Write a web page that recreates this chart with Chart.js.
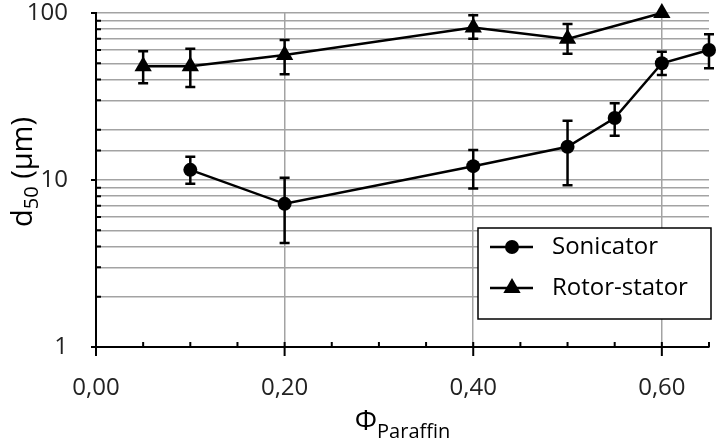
<!DOCTYPE html>
<html>
<head>
<meta charset="utf-8">
<script src="https://cdn.jsdelivr.net/npm/chart.js@4"></script>
<style>
  body { margin: 0; background: #fff; }
  #wrap { width: 721px; height: 441px; }
</style>
</head>
<body>
<div id="wrap"><canvas id="c" width="721" height="441"></canvas></div>
<script>
// Sonicator
const sonX = [0.10, 0.20, 0.40, 0.50, 0.55, 0.60, 0.65];
const sonY = [11.5, 7.2, 12.1, 15.8, 23.5, 50, 60];
const sonLo = [9.5, 4.2, 8.9, 9.3, 18.4, 42.5, 46.7];
const sonHi = [13.8, 10.3, 15.1, 22.6, 28.8, 58.6, 74.5];

// Rotor-stator
const rotX = [0.05, 0.10, 0.20, 0.40, 0.50, 0.60];
const rotY = [48, 48, 56, 82, 70, 100];
const rotLo = [38, 36, 43, 70, 57, null];
const rotHi = [59, 61, 69, 97, 86, null];

const xTicks = [0, 0.05, 0.10, 0.15, 0.20, 0.25, 0.30, 0.35, 0.40, 0.45, 0.50, 0.55, 0.60, 0.65];
const yLabels = [1, 10, 100];

const FONT = '"Open Sans", "DejaVu Sans", sans-serif';
const GRID = '#a3a3a3';

function isMajorX(v) {
    return Math.abs(v / 0.2 - Math.round(v / 0.2)) < 1e-6;
}

function pts(xs, ys) {
    return xs.map((x, i) => ({ x: x, y: ys[i] }));
}

// no extra space around the axes for tick labels, layout padding does it
function noPad(s) {
    s.paddingTop = 0; s.paddingBottom = 0;
    s.paddingLeft = 0; s.paddingRight = 0;
}

// error bars, drawn under the markers
const errorBars = {
    id: 'errorBars',
    beforeDatasetsDraw(chart) {
        const ctx = chart.ctx;
        const xs = chart.scales.x, ys = chart.scales.y;
        const sets = [[sonX, sonLo, sonHi], [rotX, rotLo, rotHi]];
        ctx.save();
        ctx.strokeStyle = '#000';
        ctx.lineWidth = 2.5;
        sets.forEach(([xv, lo, hi]) => {
            xv.forEach((x, i) => {
                if (lo[i] == null) return;
                const px = xs.getPixelForValue(x);
                const y1 = ys.getPixelForValue(lo[i]);
                const y2 = ys.getPixelForValue(hi[i]);
                ctx.beginPath();
                ctx.moveTo(px, y1); ctx.lineTo(px, y2);
                ctx.moveTo(px - 5, y1); ctx.lineTo(px + 5, y1);
                ctx.moveTo(px - 5, y2); ctx.lineTo(px + 5, y2);
                ctx.stroke();
            });
        });
        ctx.restore();
    }
};

// tick marks, axis titles with subscripts, legend box
const decorations = {
    id: 'decorations',
    afterDraw(chart) {
        const ctx = chart.ctx;
        const a = chart.chartArea;
        const xs = chart.scales.x, ys = chart.scales.y;
        ctx.save();
        ctx.strokeStyle = '#000';
        ctx.lineWidth = 2;
        ctx.beginPath();
        xs.ticks.forEach(t => {
            const px = xs.getPixelForValue(t.value);
            if (isMajorX(t.value)) {
                ctx.moveTo(px, a.bottom - 5); ctx.lineTo(px, a.bottom + 9);
            } else {
                ctx.moveTo(px, a.bottom - 5); ctx.lineTo(px, a.bottom);
            }
        });
        ys.ticks.forEach(t => {
            const py = ys.getPixelForValue(t.value);
            if (yLabels.includes(t.value)) {
                ctx.moveTo(a.left - 5, py); ctx.lineTo(a.left, py);
            } else {
                ctx.moveTo(a.left, py); ctx.lineTo(a.left + 5, py);
            }
        });
        ctx.stroke();

        // x title: Φ with subscript
        ctx.fillStyle = '#000';
        ctx.textBaseline = 'alphabetic';
        ctx.textAlign = 'left';
        const bigX = '28px ' + FONT, subX = '20px ' + FONT;
        ctx.font = bigX;
        const w1 = ctx.measureText('Φ').width;
        ctx.font = subX;
        const w2 = ctx.measureText('Paraffin').width;
        const cx = (a.left + a.right) / 2;
        let sx = cx - (w1 + w2) / 2;
        ctx.font = bigX;
        ctx.fillText('Φ', sx, 430);
        ctx.font = subX;
        ctx.fillText('Paraffin', sx + w1, 438);

        // y title: d50 (µm), rotated
        ctx.translate(22, (a.top + a.bottom) / 2 - 8);
        ctx.rotate(-Math.PI / 2);
        const bigY = '29px ' + FONT, subY = '20px ' + FONT;
        ctx.font = bigY;
        const d = ctx.measureText('d').width;
        const rest = ctx.measureText(' (µm)').width;
        ctx.font = subY;
        const s = ctx.measureText('50').width;
        let ty = -(d + s + rest) / 2;
        ctx.font = bigY;
        ctx.fillText('d', ty, 10);
        ctx.font = subY;
        ctx.fillText('50', ty + d, 16);
        ctx.font = bigY;
        ctx.fillText(' (µm)', ty + d + s, 10);
        ctx.restore();

        // legend
        ctx.save();
        const lx = a.right - 231, ly = a.bottom - 119, lw = 233, lh = 91;
        ctx.fillStyle = '#fff';
        ctx.fillRect(lx, ly, lw, lh);
        ctx.strokeStyle = '#000';
        ctx.lineWidth = 1.5;
        ctx.strokeRect(lx, ly, lw, lh);
        ctx.font = '24px ' + FONT;
        ctx.textBaseline = 'middle';
        chart.data.datasets.forEach((ds, i) => {
            const yy = ly + 19 + i * 41;
            ctx.strokeStyle = '#000';
            ctx.lineWidth = 2.5;
            ctx.beginPath();
            ctx.moveTo(lx + 12, yy); ctx.lineTo(lx + 55, yy);
            ctx.stroke();
            ctx.fillStyle = '#000';
            ctx.beginPath();
            if (ds.pointStyle === 'triangle') {
                const r = 10;
                ctx.moveTo(lx + 34, yy - r);
                ctx.lineTo(lx + 34 + r * 0.866, yy + r / 2);
                ctx.lineTo(lx + 34 - r * 0.866, yy + r / 2);
                ctx.closePath();
            } else {
                ctx.arc(lx + 34, yy, 7, 0, Math.PI * 2);
            }
            ctx.fill();
            ctx.fillText(ds.label, lx + 74, yy);
        });
        ctx.restore();
    }
};

new Chart(document.getElementById('c'), {
    type: 'line',
    data: {
        datasets: [
            {
                label: 'Sonicator',
                data: pts(sonX, sonY),
                borderColor: '#000',
                backgroundColor: '#000',
                borderWidth: 2.5,
                pointStyle: 'circle',
                pointRadius: 7,
                pointBackgroundColor: '#000',
                pointBorderWidth: 0,
                tension: 0,
                clip: false
            },
            {
                label: 'Rotor-stator',
                data: pts(rotX, rotY),
                borderColor: '#000',
                backgroundColor: '#000',
                borderWidth: 2.5,
                pointStyle: 'triangle',
                pointRadius: 10,
                pointBackgroundColor: '#000',
                pointBorderWidth: 0,
                tension: 0,
                clip: false
            }
        ]
    },
    options: {
        responsive: false,
        animation: false,
        layout: { padding: { top: 13, right: 12, left: 0, bottom: 0 } },
        plugins: {
            legend: { display: false },
            tooltip: { enabled: false }
        },
        scales: {
            x: {
                type: 'linear',
                min: 0,
                max: 0.65,
                afterBuildTicks: s => { s.ticks = xTicks.map(v => ({ value: v })); },
                afterFit: s => { s.height = 94; noPad(s); },
                border: { color: '#000', width: 2 },
                grid: {
                    color: c => (c.tick && isMajorX(c.tick.value)) ? GRID : 'rgba(0,0,0,0)',
                    lineWidth: 1.5,
                    drawTicks: false
                },
                ticks: {
                    autoSkip: false,
                    maxRotation: 0,
                    padding: 27,
                    color: '#222',
                    font: { family: FONT, size: 24 },
                    callback: v => isMajorX(v) ? v.toFixed(2).replace('.', ',') : ''
                }
            },
            y: {
                type: 'logarithmic',
                min: 1,
                max: 100,
                afterFit: s => { s.width = 96; noPad(s); },
                border: { color: '#000', width: 2 },
                grid: { color: GRID, lineWidth: 1.5, drawTicks: false },
                ticks: {
                    autoSkip: false,
                    padding: 28,
                    color: '#222',
                    font: { family: FONT, size: 24 },
                    callback: v => yLabels.includes(v) ? String(v) : ''
                }
            }
        }
    },
    plugins: [errorBars, decorations]
});
</script>
</body>
</html>
